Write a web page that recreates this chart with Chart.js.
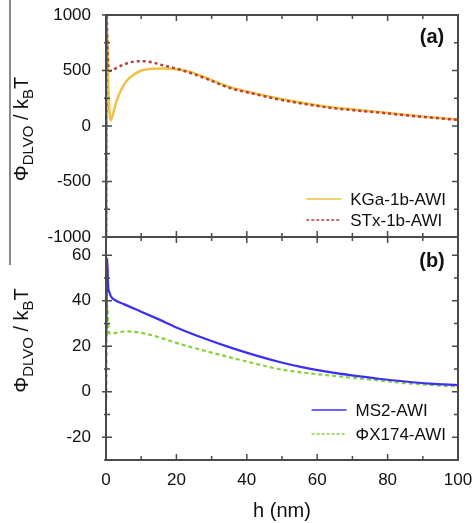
<!DOCTYPE html>
<html>
<head>
<meta charset="utf-8">
<title>DLVO interaction energy</title>
<script src="https://cdn.jsdelivr.net/npm/chart.js"></script>
<style>
    body { margin: 0; background: #fff; }
    #wrap { position: relative; width: 472px; height: 523px; }
    #wrap canvas { position: absolute; left: 0; }
    #edge { position: absolute; left: 9px; top: 0; width: 2px; height: 265px; background: #8a8a8a; }
</style>
</head>
<body>
<div id="wrap">
    <div id="edge"></div>
    <canvas id="panelA" width="472" height="250" style="top:0px"></canvas>
    <canvas id="panelB" width="472" height="298" style="top:225px"></canvas>
</div>

<script>
    const FONT = "'Liberation Sans', Arial, Helvetica, sans-serif";
    Chart.defaults.font.family = FONT;
    Chart.defaults.color = '#111';

    // ticks
    const xTicks = [0, 20, 40, 60, 80, 100];
    const yTicksA = [-1000, -500, 0, 500, 1000];
    const yTicksB = [-20, 0, 20, 40, 60];

    // (a) clays at the air-water interface, separation h (nm) and energy (kT)
    const hKGa   = [0.05, 0.3, 0.6, 0.9, 1.3, 2, 3, 4, 5, 6, 8, 10, 13, 16, 20, 24, 28, 35, 42, 49, 56, 64, 71, 78, 85, 92, 100];
    const phiKGa = [-1500, 850, 420, 170, 50, 110, 225, 305, 367, 412, 465, 500, 515, 518, 512, 488, 440, 353, 296, 248, 208, 170, 146, 125, 101, 80, 58];
    const hSTx   = [0.02, 0.15, 0.3, 0.55, 0.8, 1.1, 2, 3, 5, 7, 10, 13, 16, 20, 24, 28, 35, 42, 49, 56, 64, 71, 78, 85, 92, 100];
    const phiSTx = [-1500, 1150, 850, 600, 510, 496, 505, 523, 553, 575, 584, 575, 548, 517, 478, 432, 345, 290, 240, 201, 163, 140, 120, 97, 76, 55];

    // (b) viruses at the air-water interface
    const hMS2    = [0.08, 0.35, 0.6, 1, 1.6, 2.5, 5, 10, 15, 21, 28, 35, 42, 49, 56, 64, 71, 78, 85, 92, 100];
    const phiMS2  = [24, 58.6, 47, 43.5, 41.5, 40.3, 38.5, 35.2, 31.8, 27.6, 23.4, 19.6, 16.2, 13.2, 10.7, 8.5, 7, 5.6, 4.5, 3.6, 2.9];
    const hPhiX   = [0.1, 0.3, 0.6, 1, 2, 4, 6, 9, 13, 17, 21, 28, 35, 42, 49, 56, 64, 71, 78, 85, 92, 100];
    const phiPhiX = [-3, 38, 30, 25.5, 25.6, 26.3, 26.5, 26.1, 24.8, 23, 21, 18, 15.2, 12.5, 10, 8.4, 7.1, 6, 4.9, 3.8, 3, 2.2];

    const pts = (hs, vs) => hs.map((h, i) => ({ x: h, y: vs[i] }));

    // major ticks plus the halfway minor ticks, kept inside [min, max]
    function withMinor(majors, min, max) {
        const half = (majors[1] - majors[0]) / 2;
        const out = [];
        for (let v = majors[0] - half; v <= majors[majors.length - 1] + half + 1e-9; v += half) {
            if (v < min - 1e-9 || v > max + 1e-9) continue;
            out.push({ v: v, major: majors.includes(v) });
        }
        return out;
    }

    // gnuplot-like box with inward ticks
    const framePlugin = {
        id: 'frame',
        afterDatasetsDraw(chart, args, o) {
            const { ctx, chartArea: a } = chart;
            const xs = chart.scales.x, ys = chart.scales.y;
            ctx.save();
            ctx.strokeStyle = '#4a4a4a';
            ctx.lineWidth = 1.5;
            ctx.beginPath();
            withMinor(xTicks, xs.min, xs.max).forEach(t => {
                const p = xs.getPixelForValue(t.v), len = t.major ? 6 : 4;
                ctx.moveTo(p, a.bottom); ctx.lineTo(p, a.bottom - len);
                ctx.moveTo(p, a.top); ctx.lineTo(p, a.top + len);
            });
            withMinor(o.yTicks, ys.min, ys.max).forEach(t => {
                const p = ys.getPixelForValue(t.v), len = t.major ? 6 : 4, out = t.major ? 4 : 2;
                ctx.moveTo(a.left - out, p); ctx.lineTo(a.left + len, p);
                ctx.moveTo(a.right, p); ctx.lineTo(a.right - len, p);
            });
            ctx.stroke();
            ctx.lineWidth = 2;
            ctx.strokeRect(a.left, a.top, a.width, a.height);
            ctx.restore();
        }
    };

    // rotated y title with subscripts: Φ_DLVO / k_B T
    const yTitlePlugin = {
        id: 'yTitle',
        afterDraw(chart, args, o) {
            const { ctx, chartArea: a } = chart;
            const parts = [['Φ', false], ['DLVO', true], [' / k', false], ['B', true], ['T', false]];
            const big = '20px ' + FONT, small = '15px ' + FONT;
            ctx.save();
            let total = 0;
            parts.forEach(p => { ctx.font = p[1] ? small : big; total += ctx.measureText(p[0]).width; });
            ctx.translate(28, (a.top + a.bottom) / 2 + o.shift);
            ctx.rotate(-Math.PI / 2);
            ctx.fillStyle = '#111';
            ctx.textBaseline = 'alphabetic';
            let x = -total / 2;
            parts.forEach(p => {
                ctx.font = p[1] ? small : big;
                ctx.fillText(p[0], x, p[1] ? 5 : 0);
                x += ctx.measureText(p[0]).width;
            });
            ctx.restore();
        }
    };

    // panel letter and key in the lower right corner
    const keyPlugin = {
        id: 'key',
        afterDraw(chart, args, o) {
            const { ctx, chartArea: a } = chart;
            ctx.save();
            ctx.font = 'bold 20px ' + FONT;
            ctx.fillStyle = '#111';
            ctx.textAlign = 'center';
            ctx.textBaseline = 'middle';
            ctx.fillText(o.letter, a.right - 26, a.top + o.letterDy);

            ctx.font = '17px ' + FONT;
            ctx.textAlign = 'left';
            const sets = chart.data.datasets;
            const maxW = Math.max(...sets.map(d => ctx.measureText(d.label).width));
            const textLeft = a.right - 12 - maxW;
            sets.forEach((d, i) => {
                const y = a.bottom - o.bottom - (sets.length - 1 - i) * o.gap;
                ctx.strokeStyle = d.borderColor;
                ctx.lineWidth = 1.5;
                ctx.setLineDash(d.borderDash && d.borderDash.length ? [3, 2] : []);
                ctx.beginPath();
                ctx.moveTo(textLeft - 44, y);
                ctx.lineTo(textLeft - 9, y);
                ctx.stroke();
                ctx.fillText(d.label, textLeft, y + 1);
            });
            ctx.restore();
        }
    };

    function yAxis(min, max, ticks) {
        return {
            type: 'linear', min: min, max: max,
            afterBuildTicks: s => { s.ticks = ticks.map(v => ({ value: v })); },
            ticks: { font: { size: 17 }, color: '#111', padding: 15, callback: v => String(v) },
            grid: { display: false, drawTicks: false },
            border: { display: false },
            afterFit: s => { s.width = 106; s.paddingTop = 0; s.paddingBottom = 0; }
        };
    }

    const common = {
        responsive: false,
        animation: false,
        events: [],
        plugins: { legend: { display: false }, tooltip: { enabled: false } },
        elements: { point: { radius: 0 } }
    };

    new Chart(document.getElementById('panelA'), {
        type: 'line',
        data: {
            datasets: [{
                label: 'KGa-1b-AWI',
                data: pts(hKGa, phiKGa),
                borderColor: '#f2c042',
                borderWidth: 2.5,
                cubicInterpolationMode: 'monotone',
                order: 1
            }, {
                label: 'STx-1b-AWI',
                data: pts(hSTx, phiSTx),
                borderColor: '#b3443a',
                borderWidth: 2.5,
                borderDash: [3, 3],
                cubicInterpolationMode: 'monotone',
                order: 0
            }]
        },
        options: Object.assign({}, common, {
            layout: { padding: { top: 15, right: 14, left: 0, bottom: 0 } },
            scales: {
                x: {
                    type: 'linear', min: 0, max: 100,
                    afterBuildTicks: s => { s.ticks = xTicks.map(v => ({ value: v })); },
                    ticks: { display: false },
                    grid: { display: false, drawTicks: false },
                    border: { display: false },
                    afterFit: s => { s.height = 13; s.paddingLeft = 0; s.paddingRight = 0; }
                },
                y: yAxis(-1000, 1000, yTicksA)
            },
            plugins: Object.assign({}, common.plugins, {
                frame: { yTicks: yTicksA },
                yTitle: { shift: 3 },
                key: { letter: '(a)', letterDy: 22, bottom: 17, gap: 21 }
            })
        }),
        plugins: [framePlugin, yTitlePlugin, keyPlugin]
    });

    new Chart(document.getElementById('panelB'), {
        type: 'line',
        data: {
            datasets: [{
                label: 'MS2-AWI',
                data: pts(hMS2, phiMS2),
                borderColor: '#3b2ff5',
                borderWidth: 2.2,
                cubicInterpolationMode: 'monotone',
                order: 0
            }, {
                label: 'ΦX174-AWI',
                data: pts(hPhiX, phiPhiX),
                borderColor: '#86d23a',
                borderWidth: 2.2,
                borderDash: [4, 3],
                cubicInterpolationMode: 'monotone',
                order: 1
            }]
        },
        options: Object.assign({}, common, {
            layout: { padding: { top: 12, right: 14, left: 0, bottom: 0 } },
            scales: {
                x: {
                    type: 'linear', min: 0, max: 100,
                    afterBuildTicks: s => { s.ticks = xTicks.map(v => ({ value: v })); },
                    ticks: { font: { size: 17 }, color: '#111', padding: 10, maxRotation: 0 },
                    grid: { display: false, drawTicks: false },
                    border: { display: false },
                    title: { display: true, text: 'h (nm)', font: { size: 20 }, color: '#111', padding: { top: 0, bottom: 0 } },
                    afterFit: s => { s.height = 63; s.paddingLeft = 0; s.paddingRight = 0; }
                },
                y: yAxis(-30, 68, yTicksB)
            },
            plugins: Object.assign({}, common.plugins, {
                frame: { yTicks: yTicksB },
                yTitle: { shift: -8 },
                key: { letter: '(b)', letterDy: 24, bottom: 26, gap: 24 }
            })
        }),
        plugins: [framePlugin, yTitlePlugin, keyPlugin]
    });
</script>
</body>
</html>
